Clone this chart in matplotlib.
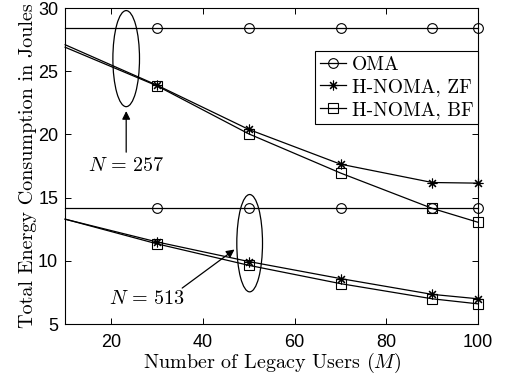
import matplotlib
matplotlib.use("Agg")
import matplotlib.pyplot as plt
from matplotlib.patches import Ellipse

plt.rcParams['mathtext.fontset'] = 'cm'
plt.rcParams['axes.unicode_minus'] = False

# Number of legacy users
m_users = [10, 30, 50, 70, 90, 100]

# N = 257
oma_257 = [28.4, 28.4, 28.4, 28.4, 28.4, 28.4]
zf_257 = [27.1, 23.9, 20.4, 17.65, 16.2, 16.15]
bf_257 = [26.9, 23.85, 20.05, 16.95, 14.15, 13.05]

# N = 513
oma_513 = [14.2, 14.2, 14.2, 14.2, 14.2, 14.2]
zf_513 = [13.3, 11.5, 9.95, 8.6, 7.35, 7.0]
bf_513 = [13.3, 11.35, 9.65, 8.2, 7.0, 6.6]

x_ticks = [20, 40, 60, 80, 100]
y_ticks = [5, 10, 15, 20, 25, 30]

legend_labels = ['OMA', 'H-NOMA, ZF', 'H-NOMA, BF']

fig = plt.figure(figsize=(5.05, 3.84), dpi=100)
ax = fig.add_axes([0.129, 0.156, 0.818, 0.823])

mark = [1, 2, 3, 4, 5]
lw = 0.9
common = dict(color='black', lw=lw, markevery=mark, markerfacecolor='none',
              markeredgewidth=0.8, clip_on=False)
star = (8, 2, 0)

h_oma, = ax.plot(m_users, oma_257, marker='o', ms=7, **common)
h_zf, = ax.plot(m_users, zf_257, marker=star, ms=7, **common)
h_bf, = ax.plot(m_users, bf_257, marker='s', ms=6.5, **common)
ax.plot(m_users, oma_513, marker='o', ms=7, **common)
ax.plot(m_users, zf_513, marker=star, ms=7, **common)
ax.plot(m_users, bf_513, marker='s', ms=6.5, **common)

ax.set_xlim(10, 100)
ax.set_ylim(5, 30)
ax.set_xticks(x_ticks)
ax.set_yticks(y_ticks)
ax.tick_params(direction='in', top=True, right=True, length=4, width=0.7,
               labelsize=13, pad=5)
ax.tick_params(axis='x', pad=7)
for lab in ax.get_xticklabels() + ax.get_yticklabels():
    lab.set_fontfamily('Liberation Sans')
for sp in ax.spines.values():
    sp.set_linewidth(0.8)

ax.set_xlabel(r'Number of Legacy Users ($M$)', fontfamily='cmr10',
              fontsize=14.5, labelpad=0)
ax.set_ylabel('Total Energy Consumption in Joules', fontfamily='cmr10',
              fontsize=14.5, labelpad=1)

# Ellipses grouping the two system sizes
ax.add_patch(Ellipse((23.3, 26.0), 5.8, 7.6, fill=False, ec='black', lw=0.9))
ax.add_patch(Ellipse((50.2, 11.4), 5.6, 7.7, fill=False, ec='black', lw=0.9))

ax.annotate('', xy=(23.3, 21.85), xytext=(23.3, 18.6),
            arrowprops=dict(arrowstyle='-|>', color='black', lw=0.9,
                            mutation_scale=12, shrinkA=0, shrinkB=0))
ax.text(23.4, 17.55, r'$N\,=\,257$', ha='center', va='center', fontsize=14.5)

ax.annotate('', xy=(46.9, 10.9), xytext=(35.5, 7.85),
            arrowprops=dict(arrowstyle='-|>', color='black', lw=0.9,
                            mutation_scale=12, shrinkA=0, shrinkB=0))
ax.text(27.9, 7.0, r'$N\,=\,513$', ha='center', va='center', fontsize=14.5)

leg = ax.legend([h_oma, h_zf, h_bf], legend_labels, loc='upper right',
                bbox_to_anchor=(1.0, 0.865), fancybox=False, framealpha=1,
                edgecolor='black', handlelength=1.35, handletextpad=0.3,
                borderpad=0.25, labelspacing=0.25, borderaxespad=0,
                prop={'family': 'cmr10', 'size': 14})
leg.get_frame().set_linewidth(0.8)

fig.savefig('out.png', dpi=100)
